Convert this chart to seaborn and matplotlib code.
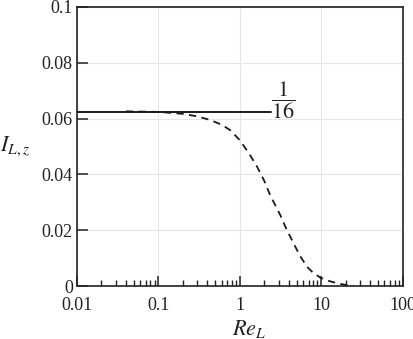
import numpy as np
import pandas as pd
import matplotlib
matplotlib.use("Agg")
import matplotlib.pyplot as plt
from matplotlib.ticker import LogLocator, NullFormatter, FixedLocator, FixedFormatter
import seaborn as sns

# data
re_curve = [0.04, 0.1, 0.2, 0.3, 0.434, 0.6, 0.76, 1.0, 1.3, 1.63, 2.0, 2.37, 3.15, 3.8, 4.57, 5.5, 6.7, 8.0, 9.8, 12.5, 15.7, 20.0, 25.0]
i_curve = [0.0626, 0.0624, 0.0617, 0.0608, 0.0595, 0.0578, 0.0559, 0.0523, 0.0475, 0.0428, 0.0377, 0.0325, 0.0254, 0.0200, 0.0154, 0.0108, 0.0069, 0.0047, 0.0030, 0.0018, 0.0010, 0.0004, 0.0]
re_limit = [0.01, 2.45]
i_limit = [0.0625, 0.0625]
x_ticks = [0.01, 0.1, 1, 10, 100]
x_labels = ["0.01", "0.1", "1", "10", "100"]
y_ticks = [0, 0.02, 0.04, 0.06, 0.08, 0.1]
y_labels = ["0", "0.02", "0.04", "0.06", "0.08", "0.1"]

sns.set_theme(style="ticks")
plt.rcParams['font.family'] = ['Liberation Serif', 'DejaVu Serif']
plt.rcParams['mathtext.fontset'] = 'stix'

fig = plt.figure(figsize=(4.13, 3.39), dpi=100)
ax = fig.add_axes([0.1864, 0.1563, 0.7882, 0.8231])

curve = pd.DataFrame({"Re": re_curve, "I": i_curve})
limit = pd.DataFrame({"Re": re_limit, "I": i_limit})

sns.lineplot(data=curve, x="Re", y="I", ax=ax, color="#1a1a1a", linewidth=1.3,
             linestyle=(0, (4, 3)), estimator=None, sort=False)
sns.lineplot(data=limit, x="Re", y="I", ax=ax, color="#1a1a1a", linewidth=1.4,
             estimator=None, sort=False)

ax.set_xscale("log")
ax.set_xlim(0.01, 100)
ax.set_ylim(0, 0.1)

ax.xaxis.set_major_locator(FixedLocator(x_ticks))
ax.xaxis.set_major_formatter(FixedFormatter(x_labels))
ax.xaxis.set_minor_locator(LogLocator(base=10, subs=np.arange(2, 10)))
ax.xaxis.set_minor_formatter(NullFormatter())
ax.yaxis.set_major_locator(FixedLocator(y_ticks))
ax.yaxis.set_major_formatter(FixedFormatter(y_labels))

ax.grid(True, which="major", color="#e6e6e6", linewidth=0.8)
ax.set_axisbelow(True)

for s in ax.spines.values():
    s.set_visible(True)
    s.set_color("#222222")
    s.set_linewidth(1.2)

ax.tick_params(axis="both", which="major", direction="in", length=7, width=1.1,
               color="#222222", labelsize=13, labelcolor="#222222")
ax.tick_params(axis="x", which="major", pad=8)
ax.tick_params(axis="y", which="major", pad=3, length=8)
ax.tick_params(axis="x", which="minor", direction="in", length=4, width=1.0, color="#222222")
ax.tick_params(axis="y", which="minor", left=False)

ax.set_xlabel("")
ax.set_ylabel("")
ax.text(-0.19, 0.50, r"$I_{L,z}$", transform=ax.transAxes, fontsize=16,
        ha="center", va="center", color="#222222")
ax.text(0.53, -0.155, r"$Re_{L}$", transform=ax.transAxes, fontsize=16,
        ha="center", va="center", color="#222222")
ax.text(3.45, 0.0668, r"$\dfrac{\mathrm{1}}{\mathrm{16}}$", fontsize=16,
        ha="center", va="center", color="#222222")

fig.savefig("out.png", dpi=100)
